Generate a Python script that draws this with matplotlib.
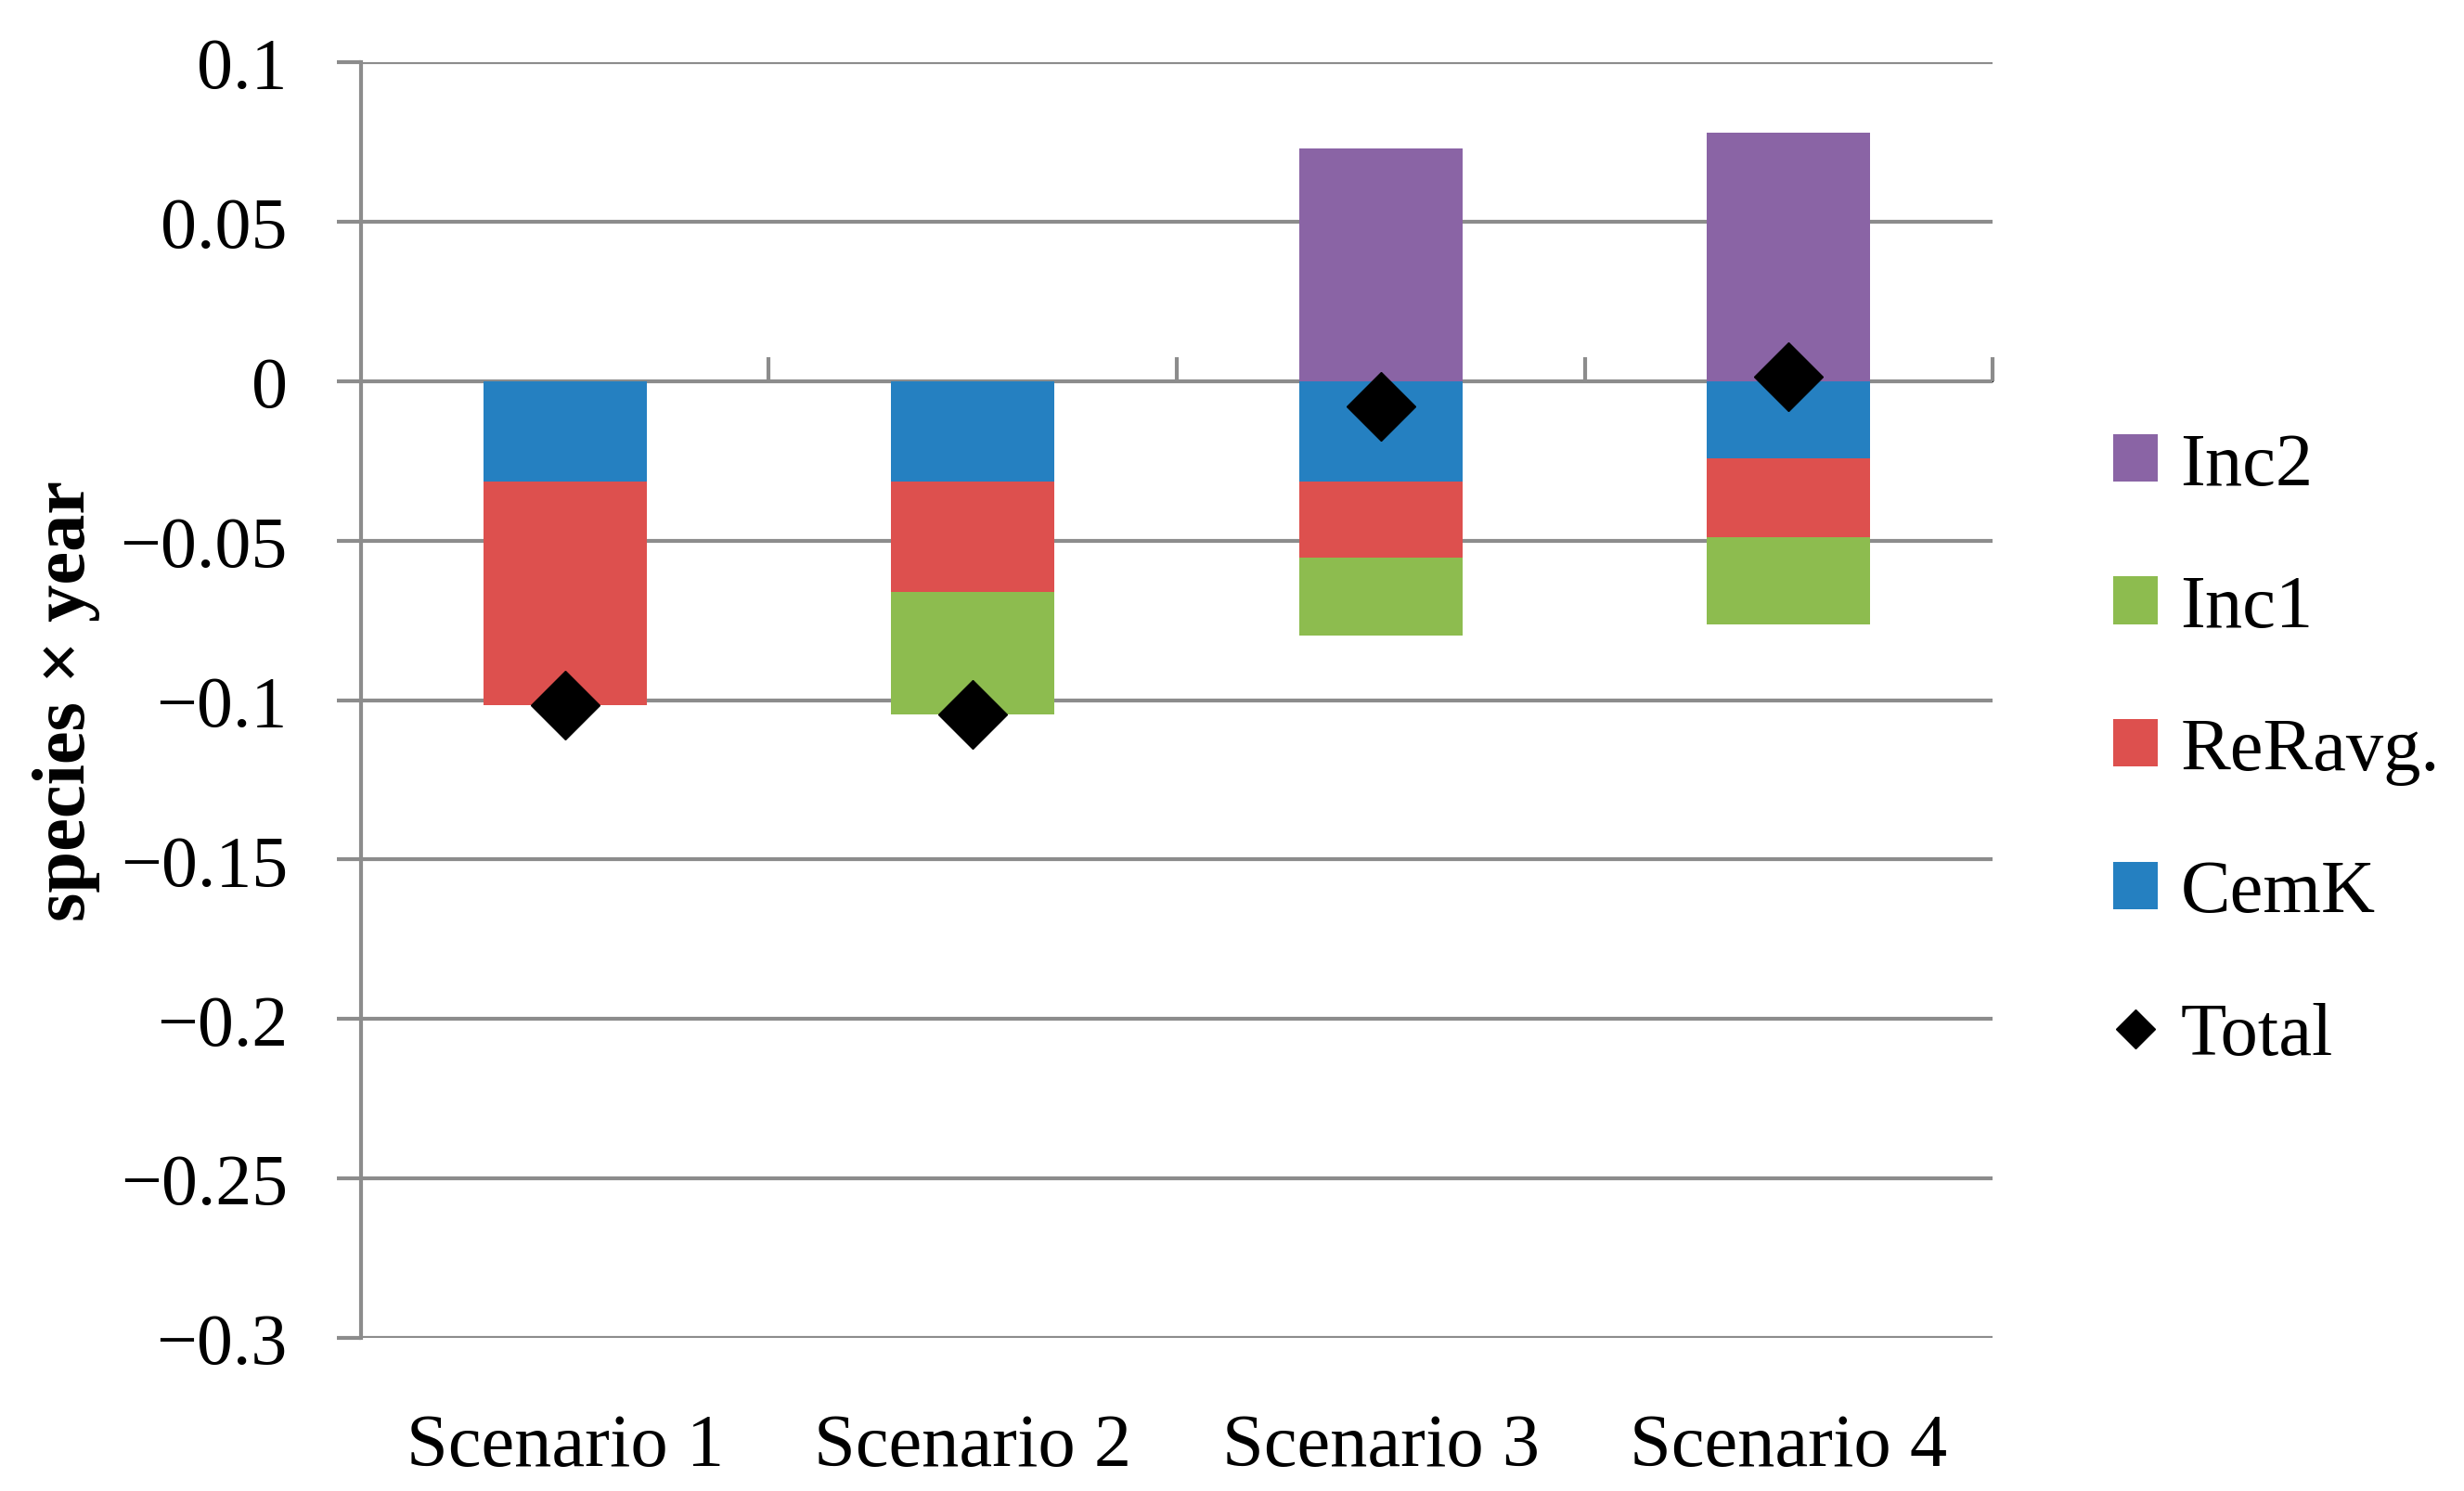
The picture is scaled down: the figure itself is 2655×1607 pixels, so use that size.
import matplotlib.pyplot as plt
import numpy as np

scenarios = ["Scenario 1", "Scenario 2", "Scenario 3", "Scenario 4"]
cemk = [-0.0315, -0.0315, -0.0315, -0.0241]
reravg = [-0.0700, -0.0345, -0.0237, -0.0247]
inc1 = [0.0, -0.0384, -0.0246, -0.0276]
inc2 = [0.0, 0.0, 0.0729, 0.0778]
total = [-0.1015, -0.1044, -0.0079, 0.0015]

yticks = [0.1, 0.05, 0, -0.05, -0.1, -0.15, -0.2, -0.25, -0.3]

colors = {"Inc2": "#8A64A5", "Inc1": "#8DBC4F", "ReRavg.": "#DD504E", "CemK": "#2580C1"}
grid_col = "#8C8C8C"

plt.rcParams["font.family"] = ["Liberation Serif", "DejaVu Serif"]
plt.rcParams["axes.unicode_minus"] = True

fig = plt.figure(figsize=(26.55, 16.08), dpi=100)
ax = fig.add_axes([0.1465, 0.1026, 0.6622, 0.8551])

x = np.arange(len(scenarios))
w = 0.4

# negative parts stack downwards from zero, positive upwards
neg_bottom = np.zeros(len(x))
pos_bottom = np.zeros(len(x))
handles = {}
for name, vals in [("CemK", cemk), ("ReRavg.", reravg), ("Inc1", inc1), ("Inc2", inc2)]:
    vals = np.array(vals)
    bottom = np.where(vals < 0, neg_bottom, pos_bottom)
    b = ax.bar(x, vals, w, bottom=bottom, color=colors[name], label=name, zorder=3, linewidth=0)
    handles[name] = b
    neg_bottom = neg_bottom + np.minimum(vals, 0)
    pos_bottom = pos_bottom + np.maximum(vals, 0)

tot, = ax.plot(x, total, linestyle="none", marker="D", color="black", markersize=38, zorder=5, label="Total")

ax.set_xlim(-0.5, len(x) - 0.5)
ax.set_ylim(min(yticks), max(yticks))
ax.set_yticks(yticks)
ax.yaxis.set_major_formatter(plt.FuncFormatter(lambda v, p: f"{v:g}".replace("-", "\u2212")))
ax.grid(axis="y", color=grid_col, linewidth=3, zorder=1)
ax.set_axisbelow(True)

for s in ["top", "right", "bottom"]:
    ax.spines[s].set_visible(False)
ax.spines["left"].set_color(grid_col)
ax.spines["left"].set_linewidth(3)
ax.tick_params(axis="y", length=19, width=3, color=grid_col, labelsize=56, pad=38)

# category labels at the bottom, no tick marks
ax.set_xticks(x)
ax.set_xticklabels(scenarios)
ax.tick_params(axis="x", length=0, labelsize=58, pad=58)

# category axis crossing at zero with boundary ticks
ymin, ymax = min(yticks), max(yticks)
sec = ax.secondary_xaxis((0 - ymin) / (ymax - ymin))
sec.set_xticks(np.arange(len(x)) + 0.5)
sec.set_xticklabels([])
sec.tick_params(axis="x", direction="out", length=19, width=3, color=grid_col)
sec.spines["bottom"].set_color(grid_col)
sec.spines["bottom"].set_linewidth(3)

ax.set_ylabel("species \u00d7 year", fontsize=58, fontweight="bold")
ax.yaxis.set_label_coords(-0.16, 0.5)

order = ["Inc2", "Inc1", "ReRavg.", "CemK"]
leg = fig.legend([handles[n] for n in order] + [tot], order + ["Total"],
                 loc="center left", bbox_to_anchor=(0.8576, 0.496), frameon=False,
                 fontsize=58, handlelength=0.6, handleheight=0.6, handletextpad=0.3,
                 labelspacing=1.0, borderpad=0, borderaxespad=0, markerscale=0.55)

fig.savefig("out.png", dpi=100)
